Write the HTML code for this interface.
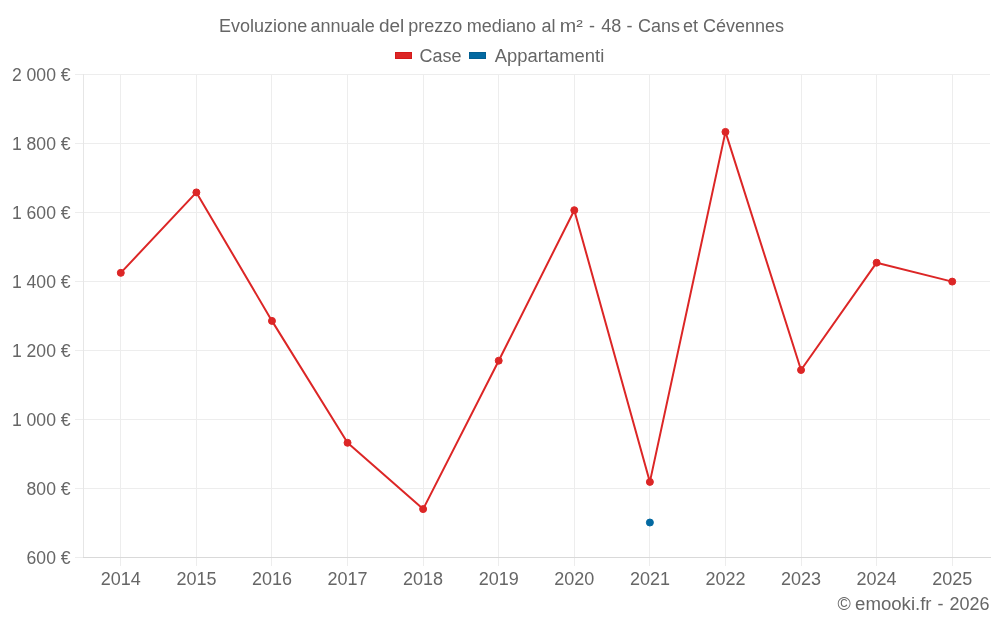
<!DOCTYPE html>
<html><head><meta charset="utf-8"><style>
html,body{margin:0;padding:0;background:#fff;width:1000px;height:625px;overflow:hidden}
svg{display:block;will-change:transform}
text{font-family:"Liberation Sans",sans-serif;fill:#666;font-size:18px}
</style></head><body>
<svg width="1000" height="625" viewBox="0 0 1000 625">

<g shape-rendering="crispEdges"><line x1="75" y1="74.5" x2="990" y2="74.5" stroke="#ededed"/><line x1="75" y1="143.5" x2="990" y2="143.5" stroke="#ededed"/><line x1="75" y1="212.5" x2="990" y2="212.5" stroke="#ededed"/><line x1="75" y1="281.5" x2="990" y2="281.5" stroke="#ededed"/><line x1="75" y1="350.5" x2="990" y2="350.5" stroke="#ededed"/><line x1="75" y1="419.5" x2="990" y2="419.5" stroke="#ededed"/><line x1="75" y1="488.5" x2="990" y2="488.5" stroke="#ededed"/><line x1="120.5" y1="74" x2="120.5" y2="566" stroke="#ededed"/><line x1="196.5" y1="74" x2="196.5" y2="566" stroke="#ededed"/><line x1="271.5" y1="74" x2="271.5" y2="566" stroke="#ededed"/><line x1="347.5" y1="74" x2="347.5" y2="566" stroke="#ededed"/><line x1="423.5" y1="74" x2="423.5" y2="566" stroke="#ededed"/><line x1="498.5" y1="74" x2="498.5" y2="566" stroke="#ededed"/><line x1="574.5" y1="74" x2="574.5" y2="566" stroke="#ededed"/><line x1="649.5" y1="74" x2="649.5" y2="566" stroke="#ededed"/><line x1="725.5" y1="74" x2="725.5" y2="566" stroke="#ededed"/><line x1="801.5" y1="74" x2="801.5" y2="566" stroke="#ededed"/><line x1="876.5" y1="74" x2="876.5" y2="566" stroke="#ededed"/><line x1="952.5" y1="74" x2="952.5" y2="566" stroke="#ededed"/><line x1="83.5" y1="74" x2="83.5" y2="557" stroke="#e6e6e6"/><line x1="75" y1="557.5" x2="83" y2="557.5" stroke="#ededed"/><line x1="83" y1="557.5" x2="991" y2="557.5" stroke="#d9d9d9"/></g>
<text x="219.1" y="31.8" font-size="17.5">Evoluzione</text><text x="310.57" y="31.8" font-size="17.5" textLength="64.14" lengthAdjust="spacingAndGlyphs">annuale</text><text x="378.91" y="31.8" font-size="17.5" textLength="25.36" lengthAdjust="spacingAndGlyphs">del</text><text x="408.3" y="31.8" font-size="17.5">prezzo</text><text x="466.77" y="31.8" font-size="17.5" textLength="69.28" lengthAdjust="spacingAndGlyphs">mediano</text><text x="541.5" y="31.8" font-size="17.5">al</text><text x="559.87" y="31.8" font-size="17.5" textLength="22.99" lengthAdjust="spacingAndGlyphs">m²</text><text x="588.9" y="31.8" font-size="17.5">-</text><text x="601.3" y="31.8" font-size="18">48</text><text x="626.4" y="31.8" font-size="17.5">-</text><text x="637.9" y="31.8" font-size="17.5">Cans</text><text x="683.1" y="31.8" font-size="17.5">et</text><text x="702.9" y="31.8" font-size="17.5">Cévennes</text>
<text x="419.5" y="61.5" font-size="17.5">Case</text><text x="494.8" y="61.5" font-size="17.5" textLength="109.45" lengthAdjust="spacingAndGlyphs">Appartamenti</text>
<rect x="395.5" y="52.5" width="16" height="6" fill="#dc2626" stroke="#d41a1a"/>

<rect x="469.5" y="52.5" width="16" height="6" fill="#0369a1" stroke="#035f92"/>

<g id="yl"><text x="70.6" y="80.7" text-anchor="end" textLength="58.7" lengthAdjust="spacingAndGlyphs">2 000 €</text><text x="70.6" y="149.7" text-anchor="end" textLength="58.7" lengthAdjust="spacingAndGlyphs">1 800 €</text><text x="70.6" y="218.7" text-anchor="end" textLength="58.7" lengthAdjust="spacingAndGlyphs">1 600 €</text><text x="70.6" y="287.7" text-anchor="end" textLength="58.7" lengthAdjust="spacingAndGlyphs">1 400 €</text><text x="70.6" y="356.7" text-anchor="end" textLength="58.7" lengthAdjust="spacingAndGlyphs">1 200 €</text><text x="70.6" y="425.7" text-anchor="end" textLength="58.7" lengthAdjust="spacingAndGlyphs">1 000 €</text><text x="70.6" y="494.7" text-anchor="end" textLength="44.0" lengthAdjust="spacingAndGlyphs">800 €</text><text x="70.6" y="563.7" text-anchor="end" textLength="44.0" lengthAdjust="spacingAndGlyphs">600 €</text></g>
<g id="xl"><text x="120.8" y="585.4" text-anchor="middle">2014</text><text x="196.4" y="585.4" text-anchor="middle">2015</text><text x="272.0" y="585.4" text-anchor="middle">2016</text><text x="347.5" y="585.4" text-anchor="middle">2017</text><text x="423.1" y="585.4" text-anchor="middle">2018</text><text x="498.7" y="585.4" text-anchor="middle">2019</text><text x="574.3" y="585.4" text-anchor="middle">2020</text><text x="649.9" y="585.4" text-anchor="middle">2021</text><text x="725.5" y="585.4" text-anchor="middle">2022</text><text x="801.0" y="585.4" text-anchor="middle">2023</text><text x="876.6" y="585.4" text-anchor="middle">2024</text><text x="952.2" y="585.4" text-anchor="middle">2025</text></g>
<polyline points="120.79,272.85 196.38,192.4 271.96,320.9 347.54,442.8 423.12,509.1 498.71,360.7 574.29,210.2 649.88,481.9 725.46,131.9 801.04,370.0 876.62,262.7 952.21,281.6" fill="none" stroke="#dc2626" stroke-width="2" stroke-linejoin="round"/>
<g fill="#dc2626" stroke="#dc2626" stroke-width="1"><circle cx="120.79" cy="272.85" r="3.5"/><circle cx="196.38" cy="192.4" r="3.5"/><circle cx="271.96" cy="320.9" r="3.5"/><circle cx="347.54" cy="442.8" r="3.5"/><circle cx="423.12" cy="509.1" r="3.5"/><circle cx="498.71" cy="360.7" r="3.5"/><circle cx="574.29" cy="210.2" r="3.5"/><circle cx="649.88" cy="481.9" r="3.5"/><circle cx="725.46" cy="131.9" r="3.5"/><circle cx="801.04" cy="370.0" r="3.5"/><circle cx="876.62" cy="262.7" r="3.5"/><circle cx="952.21" cy="281.6" r="3.5"/></g>
<circle cx="649.88" cy="522.5" r="3.5" fill="#0369a1" stroke="#0369a1" stroke-width="1"/>
<text x="837.5" y="610" font-size="17.5">©</text><text x="855.04" y="610" font-size="17.5" textLength="76.53" lengthAdjust="spacingAndGlyphs">emooki.fr</text><text x="937.4" y="610" font-size="17.5">-</text><text x="949.4" y="610" font-size="18">2026</text>
</svg>
</body></html>
